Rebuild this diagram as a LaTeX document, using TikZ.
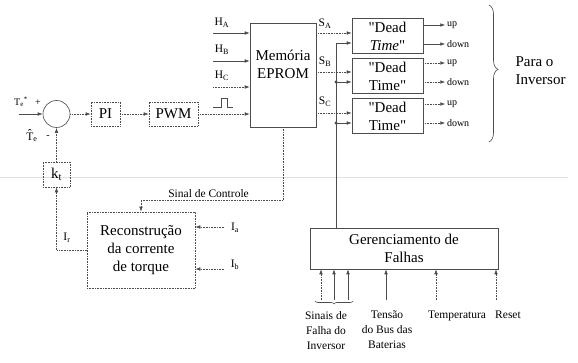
\documentclass[tikz,border=0pt]{standalone}
\usepackage{fontspec}
\setmainfont{Liberation Serif}
\usepackage{tikz}
\usetikzlibrary{positioning,arrows.meta,calc,decorations.pathreplacing}

\begin{document}
\begin{tikzpicture}[
  x=1pt, y=-1pt,
  font=\fontsize{15}{18}\selectfont,
  box/.style={draw=black!70, densely dotted, line width=0.6pt, inner sep=0pt, align=center},
  solidbox/.style={draw=black!70, line width=0.6pt, inner sep=0pt, align=center},
  dtbox/.style={solidbox, minimum width=71pt, minimum height=35pt},
  lab/.style={font=\fontsize{11.5}{15}\selectfont, inner sep=0pt, align=center},
  tiny/.style={font=\fontsize{10}{12}\selectfont, inner sep=0pt},
  ln/.style={draw=black!70, line width=0.6pt},
  arr/.style={ln, -{Latex[length=5pt,width=3.6pt]}},
  dotarr/.style={arr, densely dotted},
  ]
  \useasboundingbox (0,0) rectangle (578,363);

  % page edge
  \draw[black!12, line width=0.8pt] (0,177) -- (568,177);

  % torque loop
  \node[circle, draw=black!70, line width=0.6pt, minimum size=27pt, inner sep=0pt] (sum) at (56.5,114) {};
  \coordinate (tin) at (19,114);
  \node[tiny] (tref) at (21,102) {T\textsubscript{e}\textsuperscript{*}};
  \node[tiny] (plus) at (38,103) {+};
  \node[lab] (that) at (32,136) {\^{T}\textsubscript{e}};
  \node[tiny] (minus) at (48,137) {-};
  \node[box, minimum width=29pt, minimum height=24pt] (pi) at (105.5,114) {PI};
  \node[box, minimum width=49pt, minimum height=24pt] (pwm) at (173.5,114) {PWM};
  \node[box, minimum width=27pt, minimum height=25pt] (kt) at (56.5,174.5) {k\textsubscript{t}};

  \draw[arr] (tin) -- (sum);
  \draw[dotarr] (sum) -- (pi);
  \draw[dotarr] (pi) -- (pwm);
  \draw[dotarr] (kt) -- (sum);

  % EPROM
  \node[solidbox, minimum width=66pt, minimum height=104pt] (eprom) at (283,75) {};
  \node[align=center] (epromtxt) at (283,64) {Memória\\EPROM};
  \draw[dotarr] (pwm) -- (pwm -| eprom.west);

  % Hall inputs
  \coordinate (ha) at (213,33);
  \coordinate (hb) at (213,61);
  \coordinate (hc) at (213,87);
  \draw[arr] (ha) -- (ha -| eprom.west);
  \draw[arr] (hb) -- (hb -| eprom.west);
  \draw[dotarr] (hc) -- (hc -| eprom.west);
  \node[lab] (halab) at (222,23) {H\textsubscript{A}};
  \node[lab] (hblab) at (222,50) {H\textsubscript{B}};
  \node[lab] (hclab) at (222,76) {H\textsubscript{C}};
  \draw[ln] (213,107) -- (221,107) -- (221,98) -- (227,98) -- (227,107) -- (233,107);

  % dead time blocks
  \node[dtbox] (dta) at (387.5,36) {\textquotedbl Dead\\\textit{Time}\textquotedbl};
  \node[dtbox] (dtb) at (387.5,76) {\textquotedbl Dead\\Time\textquotedbl};
  \node[dtbox] (dtc) at (387.5,116) {\textquotedbl Dead\\Time\textquotedbl};

  \coordinate (sa) at ($(dta.west)+(0,-3)$);
  \coordinate (sb) at ($(dtb.west)+(0,-4)$);
  \coordinate (sc) at ($(dtc.west)+(0,-3)$);
  \draw[dotarr] (eprom.east |- sa) -- (sa);
  \draw[dotarr] (eprom.east |- sb) -- (sb);
  \draw[dotarr] (eprom.east |- sc) -- (sc);
  \node[lab] (salab) at (325,24) {S\textsubscript{A}};
  \node[lab] (sblab) at (325,62) {S\textsubscript{B}};
  \node[lab] (sclab) at (325,102) {S\textsubscript{C}};

  % up / down outputs
  \coordinate (upa) at ($(dta.east)+(22,-11)$);
  \coordinate (dna) at ($(dta.east)+(22,8)$);
  \coordinate (upb) at ($(dtb.east)+(22,-13)$);
  \coordinate (dnb) at ($(dtb.east)+(22,6)$);
  \coordinate (upc) at ($(dtc.east)+(22,-12)$);
  \coordinate (dnc) at ($(dtc.east)+(22,7)$);
  \draw[arr] (dta.east |- upa) -- (upa);
  \draw[arr] (dta.east |- dna) -- (dna);
  \draw[dotarr] (dtb.east |- upb) -- (upb);
  \draw[dotarr] (dtb.east |- dnb) -- (dnb);
  \draw[dotarr] (dtc.east |- upc) -- (upc);
  \draw[dotarr] (dtc.east |- dnc) -- (dnc);
  \node[tiny, right=1.5pt of upa] (upalab) {up};
  \node[tiny, right=1.5pt of dna] (dnalab) {down};
  \node[tiny, right=1.5pt of upb] (upblab) {up};
  \node[tiny, right=1.5pt of dnb] (dnblab) {down};
  \node[tiny, right=1.5pt of upc] (upclab) {up};
  \node[tiny, right=1.5pt of dnc] (dnclab) {down};

  \draw[ln, decorate, decoration={brace, amplitude=9pt, aspect=0.47}] (489,5) -- (489,142);
  \node[align=left, anchor=west] (inv) at (512,71) {Para o\\Inversor};

  % torque reconstruction
  \node[box, minimum width=108pt, minimum height=76pt] (rec) at (141,250) {Reconstrução\\da corrente\\de torque};
  \draw[dotarr] (rec.west) -| (kt.south);
  \node[lab] (irlab) at (67,238) {I\textsubscript{r}};
  \draw[dotarr] (eprom.south) -- ++(0,73) -| (rec.north);
  \node[lab, anchor=south east] (sinal) at (249,198) {Sinal de Controle};

  \coordinate (ia) at (224,227);
  \coordinate (ib) at (224,269);
  \draw[dotarr] (ia) -- (ia -| rec.east);
  \draw[dotarr] (ib) -- (ib -| rec.east);
  \node[lab] (ialab) at (235,228) {I\textsubscript{a}};
  \node[lab] (iblab) at (235,265) {I\textsubscript{b}};

  % fault management
  \node[solidbox, minimum width=188pt, minimum height=41pt] (gf) at (404,248.5) {Gerenciamento de\\Falhas};
  \coordinate (bus) at (336,0);
  \coordinate (ea) at ($(dta.west)+(0,7)$);
  \coordinate (eb) at ($(dtb.west)+(0,6)$);
  \coordinate (ec) at ($(dtc.west)+(0,7)$);
  \draw[arr] (gf.north -| bus) |- (ea);
  \draw[arr] (bus |- eb) -- (eb);
  \draw[arr] (bus |- ec) -- (ec);
  \fill[black!70] (bus |- eb) circle (1.7pt);
  \fill[black!70] (bus |- ec) circle (1.7pt);

  \coordinate (f1) at (321,300);
  \coordinate (f2) at (334,300);
  \coordinate (f3) at (348,300);
  \coordinate (tb) at (386,300);
  \coordinate (tp) at (436,300);
  \coordinate (rs) at (496,300);
  \draw[dotarr] (f1) -- (f1 |- gf.south);
  \draw[arr] (f2) -- (f2 |- gf.south);
  \draw[arr] (f3) -- (f3 |- gf.south);
  \draw[arr] (tb) -- (tb |- gf.south);
  \draw[dotarr] (tp) -- (tp |- gf.south);
  \draw[dotarr] (rs) -- (rs |- gf.south);
  \draw[ln, decorate, decoration={brace, amplitude=3pt}] (353,301) -- (315,301);

  \node[lab, anchor=north] (sinais) at (326,311) {Sinais de\\Falha do\\Inversor};
  \node[lab, anchor=north] (tensao) at (387,311) {Tensão\\do Bus das\\Baterias};
  \node[lab, anchor=north] (temp) at (457,311) {Temperatura};
  \node[lab, anchor=north] (reset) at (508,311) {Reset};
\end{tikzpicture}
\end{document}
